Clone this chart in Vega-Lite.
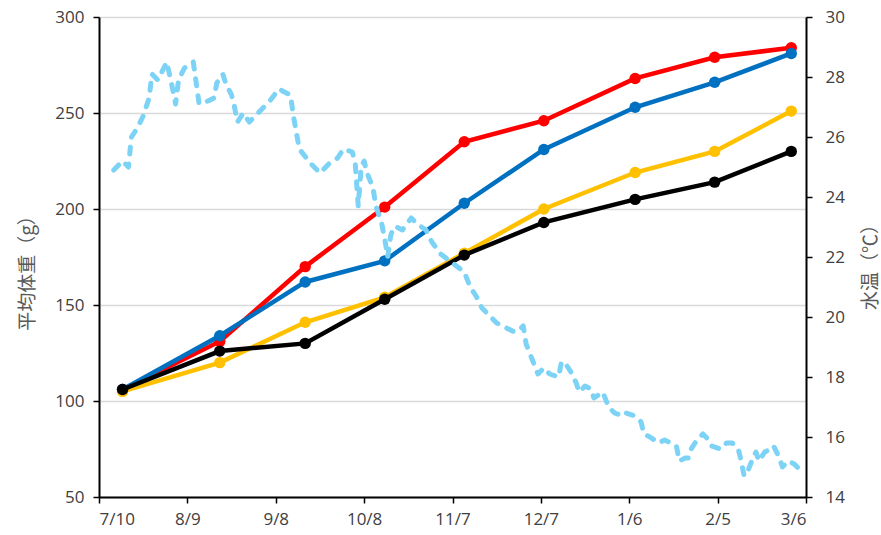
{
  "$schema": "https://vega.github.io/schema/vega-lite/v6.json",
  "width": 707,
  "height": 480,
  "autosize": "none",
  "padding": {"left": 99, "top": 17, "right": 75, "bottom": 38},
  "background": "white",
  "config": {
    "view": {"stroke": null},
    "font": "Open Sans",
    "axis": {
      "labelFont": "Open Sans",
      "labelFontSize": 17,
      "labelColor": "#404040",
      "domainColor": "#000000",
      "domainWidth": 2,
      "tickColor": "#000000",
      "tickWidth": 1.5,
      "tickSize": 6,
      "titleFont": "Noto Sans CJK JP",
      "titleFontSize": 19,
      "titleFontWeight": "normal",
      "titleColor": "#595959"
    }
  },
  "datasets": {
    "weight": [
      {"date": "2019-07-18", "s": "A", "g": 106},
      {"date": "2019-08-20", "s": "A", "g": 131},
      {"date": "2019-09-18", "s": "A", "g": 170},
      {"date": "2019-10-15", "s": "A", "g": 201},
      {"date": "2019-11-11", "s": "A", "g": 235},
      {"date": "2019-12-08", "s": "A", "g": 246},
      {"date": "2020-01-08", "s": "A", "g": 268},
      {"date": "2020-02-04", "s": "A", "g": 279},
      {"date": "2020-03-01", "s": "A", "g": 284},
      {"date": "2019-07-18", "s": "B", "g": 106},
      {"date": "2019-08-20", "s": "B", "g": 134},
      {"date": "2019-09-18", "s": "B", "g": 162},
      {"date": "2019-10-15", "s": "B", "g": 173},
      {"date": "2019-11-11", "s": "B", "g": 203},
      {"date": "2019-12-08", "s": "B", "g": 231},
      {"date": "2020-01-08", "s": "B", "g": 253},
      {"date": "2020-02-04", "s": "B", "g": 266},
      {"date": "2020-03-01", "s": "B", "g": 281},
      {"date": "2019-07-18", "s": "C", "g": 105},
      {"date": "2019-08-20", "s": "C", "g": 120},
      {"date": "2019-09-18", "s": "C", "g": 141},
      {"date": "2019-10-15", "s": "C", "g": 154},
      {"date": "2019-11-11", "s": "C", "g": 177},
      {"date": "2019-12-08", "s": "C", "g": 200},
      {"date": "2020-01-08", "s": "C", "g": 219},
      {"date": "2020-02-04", "s": "C", "g": 230},
      {"date": "2020-03-01", "s": "C", "g": 251},
      {"date": "2019-07-18", "s": "D", "g": 106},
      {"date": "2019-08-20", "s": "D", "g": 126},
      {"date": "2019-09-18", "s": "D", "g": 130},
      {"date": "2019-10-15", "s": "D", "g": 153},
      {"date": "2019-11-11", "s": "D", "g": 176},
      {"date": "2019-12-08", "s": "D", "g": 193},
      {"date": "2020-01-08", "s": "D", "g": 205},
      {"date": "2020-02-04", "s": "D", "g": 214},
      {"date": "2020-03-01", "s": "D", "g": 230}
    ],
    "temp": [
      {"date": "2019-07-15", "t": 24.9},
      {"date": "2019-07-18", "t": 25.2},
      {"date": "2019-07-20", "t": 25.0},
      {"date": "2019-07-21", "t": 26.0},
      {"date": "2019-07-23", "t": 26.3},
      {"date": "2019-07-25", "t": 26.7},
      {"date": "2019-07-27", "t": 27.3},
      {"date": "2019-07-28", "t": 28.1},
      {"date": "2019-07-30", "t": 27.9},
      {"date": "2019-07-31", "t": 28.1},
      {"date": "2019-08-02", "t": 28.5},
      {"date": "2019-08-04", "t": 27.6},
      {"date": "2019-08-05", "t": 27.1},
      {"date": "2019-08-06", "t": 27.9},
      {"date": "2019-08-08", "t": 28.3},
      {"date": "2019-08-11", "t": 28.5},
      {"date": "2019-08-12", "t": 27.8},
      {"date": "2019-08-13", "t": 27.1},
      {"date": "2019-08-16", "t": 27.2},
      {"date": "2019-08-18", "t": 27.3},
      {"date": "2019-08-19", "t": 27.8},
      {"date": "2019-08-21", "t": 28.1},
      {"date": "2019-08-22", "t": 27.8},
      {"date": "2019-08-24", "t": 27.4},
      {"date": "2019-08-25", "t": 27.0},
      {"date": "2019-08-26", "t": 26.5},
      {"date": "2019-08-28", "t": 26.8},
      {"date": "2019-08-30", "t": 26.5},
      {"date": "2019-09-03", "t": 26.9},
      {"date": "2019-09-06", "t": 27.2},
      {"date": "2019-09-09", "t": 27.6},
      {"date": "2019-09-13", "t": 27.4},
      {"date": "2019-09-14", "t": 26.7},
      {"date": "2019-09-16", "t": 25.6},
      {"date": "2019-09-20", "t": 25.1},
      {"date": "2019-09-23", "t": 24.8},
      {"date": "2019-09-26", "t": 25.1},
      {"date": "2019-09-29", "t": 25.3},
      {"date": "2019-10-01", "t": 25.6},
      {"date": "2019-10-04", "t": 25.5},
      {"date": "2019-10-05", "t": 25.1},
      {"date": "2019-10-06", "t": 23.7},
      {"date": "2019-10-07", "t": 25.0},
      {"date": "2019-10-08", "t": 25.2},
      {"date": "2019-10-09", "t": 24.8},
      {"date": "2019-10-11", "t": 24.3},
      {"date": "2019-10-12", "t": 23.7},
      {"date": "2019-10-14", "t": 23.1},
      {"date": "2019-10-15", "t": 22.6},
      {"date": "2019-10-16", "t": 22.0},
      {"date": "2019-10-17", "t": 22.7},
      {"date": "2019-10-18", "t": 23.0},
      {"date": "2019-10-19", "t": 23.0},
      {"date": "2019-10-21", "t": 22.9},
      {"date": "2019-10-24", "t": 23.3},
      {"date": "2019-10-26", "t": 23.1},
      {"date": "2019-10-29", "t": 22.9},
      {"date": "2019-10-31", "t": 22.5},
      {"date": "2019-11-03", "t": 22.1},
      {"date": "2019-11-07", "t": 21.8},
      {"date": "2019-11-11", "t": 21.5},
      {"date": "2019-11-13", "t": 21.0},
      {"date": "2019-11-15", "t": 20.7},
      {"date": "2019-11-17", "t": 20.3},
      {"date": "2019-11-20", "t": 20.0},
      {"date": "2019-11-22", "t": 19.8},
      {"date": "2019-11-26", "t": 19.6},
      {"date": "2019-11-28", "t": 19.5},
      {"date": "2019-11-30", "t": 19.6},
      {"date": "2019-12-01", "t": 19.7},
      {"date": "2019-12-02", "t": 19.1},
      {"date": "2019-12-04", "t": 18.6},
      {"date": "2019-12-06", "t": 18.1},
      {"date": "2019-12-08", "t": 18.3},
      {"date": "2019-12-10", "t": 18.1},
      {"date": "2019-12-13", "t": 18.0},
      {"date": "2019-12-14", "t": 18.5},
      {"date": "2019-12-15", "t": 18.5},
      {"date": "2019-12-17", "t": 18.2},
      {"date": "2019-12-19", "t": 17.8},
      {"date": "2019-12-20", "t": 17.5},
      {"date": "2019-12-22", "t": 17.7},
      {"date": "2019-12-24", "t": 17.6},
      {"date": "2019-12-25", "t": 17.3},
      {"date": "2019-12-28", "t": 17.5},
      {"date": "2019-12-30", "t": 17.0},
      {"date": "2020-01-01", "t": 16.8},
      {"date": "2020-01-04", "t": 16.7},
      {"date": "2020-01-05", "t": 16.8},
      {"date": "2020-01-08", "t": 16.7},
      {"date": "2020-01-10", "t": 16.5},
      {"date": "2020-01-11", "t": 16.1},
      {"date": "2020-01-13", "t": 16.0},
      {"date": "2020-01-16", "t": 15.8},
      {"date": "2020-01-18", "t": 15.9},
      {"date": "2020-01-20", "t": 15.8},
      {"date": "2020-01-22", "t": 15.7},
      {"date": "2020-01-23", "t": 15.2},
      {"date": "2020-01-25", "t": 15.3},
      {"date": "2020-01-26", "t": 15.3},
      {"date": "2020-01-27", "t": 15.6},
      {"date": "2020-01-29", "t": 15.9},
      {"date": "2020-01-31", "t": 16.1},
      {"date": "2020-02-02", "t": 15.9},
      {"date": "2020-02-03", "t": 15.7},
      {"date": "2020-02-06", "t": 15.6},
      {"date": "2020-02-08", "t": 15.8},
      {"date": "2020-02-10", "t": 15.8},
      {"date": "2020-02-12", "t": 15.6},
      {"date": "2020-02-13", "t": 15.2},
      {"date": "2020-02-14", "t": 14.7},
      {"date": "2020-02-15", "t": 14.8},
      {"date": "2020-02-17", "t": 15.3},
      {"date": "2020-02-18", "t": 15.5},
      {"date": "2020-02-19", "t": 15.2},
      {"date": "2020-02-21", "t": 15.5},
      {"date": "2020-02-23", "t": 15.6},
      {"date": "2020-02-24", "t": 15.7},
      {"date": "2020-02-26", "t": 15.3},
      {"date": "2020-02-27", "t": 15.0},
      {"date": "2020-02-29", "t": 15.2},
      {"date": "2020-03-02", "t": 15.1},
      {"date": "2020-03-04", "t": 14.9},
      {"date": "2020-03-06", "t": 14.9}
    ]
  },
  "layer": [
    {
      "data": {"name": "weight"},
      "encoding": {
        "x": {
          "field": "date",
          "type": "temporal",
          "scale": {
            "type": "utc",
            "domain": [
              {"year": 2019, "month": 7, "date": 10, "utc": true},
              {"year": 2020, "month": 3, "date": 6, "utc": true}
            ]
          },
          "axis": {
            "title": null,
            "grid": false,
            "format": "%-m/%-d",
            "labelPadding": 8,
            "values": [
              {"year": 2019, "month": 7, "date": 10, "utc": true},
              {"year": 2019, "month": 8, "date": 9, "utc": true},
              {"year": 2019, "month": 9, "date": 8, "utc": true},
              {"year": 2019, "month": 10, "date": 8, "utc": true},
              {"year": 2019, "month": 11, "date": 7, "utc": true},
              {"year": 2019, "month": 12, "date": 7, "utc": true},
              {"year": 2020, "month": 1, "date": 6, "utc": true},
              {"year": 2020, "month": 2, "date": 5, "utc": true},
              {"year": 2020, "month": 3, "date": 6, "utc": true}
            ]
          }
        },
        "y": {
          "field": "g",
          "type": "quantitative",
          "scale": {"domain": [50, 300], "nice": false, "zero": false},
          "axis": {
            "title": "平均体重（g）",
            "values": [50, 100, 150, 200, 250, 300],
            "grid": true,
            "gridColor": "#D9D9D9",
            "gridWidth": 1.5,
            "labelPadding": 9,
            "titleX": -72,
            "titleY": 251,
            "titleAngle": 270,
            "titleAlign": "center",
            "titleBaseline": "middle"
          }
        }
      },
      "layer": [
        {
          "transform": [{"filter": "datum.s == 'A'"}],
          "mark": {"type": "line", "color": "#FF0000", "strokeWidth": 4.5, "point": {"filled": true, "size": 130, "color": "#FF0000"}}
        },
        {
          "transform": [{"filter": "datum.s == 'B'"}],
          "mark": {"type": "line", "color": "#0070C0", "strokeWidth": 4.5, "point": {"filled": true, "size": 130, "color": "#0070C0"}}
        },
        {
          "transform": [{"filter": "datum.s == 'C'"}],
          "mark": {"type": "line", "color": "#FFC000", "strokeWidth": 4.5, "point": {"filled": true, "size": 130, "color": "#FFC000"}}
        },
        {
          "transform": [{"filter": "datum.s == 'D'"}],
          "mark": {"type": "line", "color": "#000000", "strokeWidth": 4.5, "point": {"filled": true, "size": 130, "color": "#000000"}}
        }
      ]
    },
    {
      "data": {"name": "temp"},
      "mark": {"type": "line", "color": "#7DD3F5", "strokeWidth": 5, "strokeDash": [7, 10], "strokeCap": "round", "strokeJoin": "round"},
      "encoding": {
        "x": {
          "field": "date",
          "type": "temporal",
          "scale": {
            "type": "utc",
            "domain": [
              {"year": 2019, "month": 7, "date": 10, "utc": true},
              {"year": 2020, "month": 3, "date": 6, "utc": true}
            ]
          }
        },
        "y": {
          "field": "t",
          "type": "quantitative",
          "scale": {"domain": [14, 30], "nice": false, "zero": false},
          "axis": {
            "orient": "right",
            "title": "水温（℃）",
            "values": [14, 16, 18, 20, 22, 24, 26, 28, 30],
            "grid": false,
            "labelPadding": 13,
            "titleX": 64,
            "titleY": 245,
            "titleAngle": 270,
            "titleAlign": "center",
            "titleBaseline": "middle"
          }
        }
      }
    }
  ],
  "resolve": {"scale": {"y": "independent"}}
}
